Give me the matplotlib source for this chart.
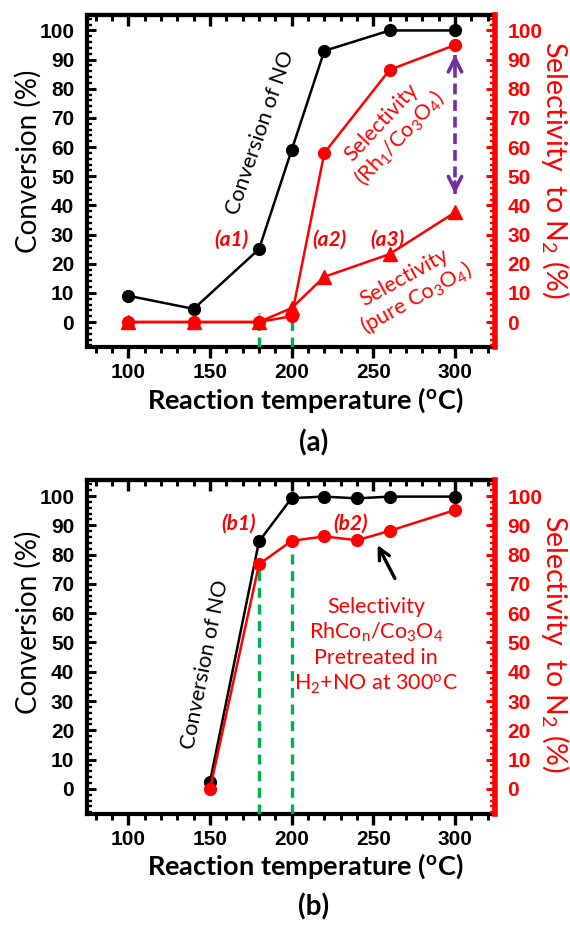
import matplotlib
matplotlib.use('Agg')
import matplotlib.pyplot as plt
from matplotlib.ticker import MultipleLocator

plt.rcParams['font.family'] = ['Lato', 'DejaVu Sans']
plt.rcParams['mathtext.fontset'] = 'custom'
plt.rcParams['mathtext.rm'] = 'Lato'
plt.rcParams['mathtext.it'] = 'Lato:italic'
plt.rcParams['mathtext.bf'] = 'Lato:bold'

# panel (a): Rh1/Co3O4 vs pure Co3O4
temp_a = [100, 140, 180, 200, 220, 260, 300]
conv_a = [9, 4.5, 25, 59, 93, 100, 100]
sel_rh1_a = [0, 0, 0, 2, 58, 86.5, 95]
sel_pure_a = [0, 0, 0, 4.8, 15.5, 23.3, 37.6]

# panel (b): RhCon/Co3O4 pretreated in H2+NO
temp_b = [150, 180, 200, 220, 240, 260, 300]
conv_b = [2.5, 84.5, 99.3, 99.8, 99.2, 99.8, 99.8]
sel_b = [0, 76.7, 84.7, 86.2, 84.9, 88.1, 95.2]

green_x = [180, 200]
green_top_a = [3, 3]
green_top_b = [76.7, 84.7]

gap_x = 300
gap_top = 92.7
gap_bottom = 43

RED = '#FF0000'
GREEN = '#00B050'
PURPLE = '#7030A0'
XLIM = (74.5, 324.5)
YLIM = (-8.5, 105.3)
W, H = 570, 925


def px(x, y):
    """pixel position -> figure fraction"""
    return x / W, 1 - y / H


def bold_ticks(labels, color='black'):
    for lbl in labels:
        lbl.set_fontfamily('Liberation Sans')
        lbl.set_fontweight('bold')
        lbl.set_fontsize(15)
        lbl.set_color(color)


def setup_axes(fig, rect):
    ax = fig.add_axes(rect)
    ax.set_xlim(*XLIM)
    ax.set_ylim(*YLIM)
    ax2 = ax.twinx()
    ax2.set_ylim(*YLIM)

    for s in ax.spines.values():
        s.set_linewidth(3)
    for name in ['left', 'top', 'bottom']:
        ax2.spines[name].set_visible(False)
    ax2.spines['right'].set_color(RED)
    ax2.spines['right'].set_linewidth(4)
    ax.spines['right'].set_visible(False)

    ax.xaxis.set_major_locator(MultipleLocator(50))
    ax.xaxis.set_minor_locator(MultipleLocator(10))
    ax.tick_params(axis='x', which='major', direction='out', length=8, width=2.4, pad=4)
    ax.tick_params(axis='x', which='minor', direction='out', length=4.5, width=2.2)

    top = ax.secondary_xaxis('top')
    top.xaxis.set_major_locator(MultipleLocator(50))
    top.xaxis.set_minor_locator(MultipleLocator(10))
    top.tick_params(axis='x', which='major', direction='in', length=8, width=2.4, labeltop=False)
    top.tick_params(axis='x', which='minor', direction='in', length=4.5, width=2.2)
    top.spines['top'].set_linewidth(3)

    for a, c in [(ax, 'black'), (ax2, RED)]:
        a.yaxis.set_major_locator(MultipleLocator(10))
        a.yaxis.set_minor_locator(MultipleLocator(2))
        a.tick_params(axis='y', which='major', direction='in', length=6.5, width=2.2, pad=9, color=c)
        a.tick_params(axis='y', which='minor', direction='in', length=3.5, width=1.7, color=c)
        a.set_ylim(*YLIM)
    ax.set_yticks(range(0, 101, 10))
    ax2.set_yticks(range(0, 101, 10))
    ax.set_xticks([100, 150, 200, 250, 300])

    bold_ticks(ax.get_xticklabels())
    bold_ticks(ax.get_yticklabels())
    bold_ticks(ax2.get_yticklabels(), RED)
    return ax, ax2


def axis_labels(fig, y_xlabel, y_conv, y_sel, y_panel, panel):
    fig.text(*px(305, y_xlabel), r'Reaction temperature ($^{\mathbf{o}}$C)',
             ha='center', va='center', fontsize=19.5, fontweight='bold')
    fig.text(*px(28, y_conv), 'Conversion (%)', rotation=90,
             ha='center', va='center', fontsize=20)
    fig.text(*px(555, y_sel), r'Selectivity  to N$_2$ (%)', rotation=270,
             ha='center', va='center', fontsize=20.5, color=RED)
    fig.text(*px(314, y_panel), panel, ha='center', va='center',
             fontsize=20, fontweight='bold')


fig = plt.figure(figsize=(5.7, 9.25), dpi=100)

# ---------------- panel (a)
ax, ax2 = setup_axes(fig, [86.7 / W, 1 - 346.8 / H, 408.3 / W, 331.8 / H])
for x, top in zip(green_x, green_top_a):
    ax2.plot([x, x], [YLIM[0], top], color=GREEN, lw=2.4, ls=(0, (3, 2)), zorder=1)
ax.plot(temp_a, conv_a, '-o', color='black', lw=1.8, ms=8.5)
ax2.plot(temp_a, sel_pure_a, '-^', color=RED, lw=1.8, ms=9.5)
ax2.plot(temp_a, sel_rh1_a, '-o', color=RED, lw=1.8, ms=8.5)

ax2.plot([gap_x, gap_x], [gap_bottom + 1, gap_top - 1], color=PURPLE, lw=2.6, ls=(0, (3, 1.6)))
for tip, tail in [(gap_top, gap_top - 6), (gap_bottom, gap_bottom + 6)]:
    ax2.annotate('', xy=(gap_x, tip), xytext=(gap_x, tail),
                 arrowprops=dict(arrowstyle='->', color=PURPLE, lw=2.6, mutation_scale=24))

ax.text(180.6, 64.8, 'Conversion of NO', rotation=71, rotation_mode='anchor',
        ha='center', va='center', fontsize=15.5)
ax.text(260.7, 65.5, 'Selectivity\n(Rh$_1$/Co$_3$O$_4$)', rotation=47, rotation_mode='anchor',
        ha='center', va='center', fontsize=15.5, color=RED, linespacing=1.1)
ax.text(273, 11.4, 'Selectivity\n(pure Co$_3$O$_4$)', rotation=29, rotation_mode='anchor',
        ha='center', va='center', fontsize=15.5, color=RED, linespacing=1.1)
for lab, x in [('(a1)', 162.8), ('(a2)', 222.8), ('(a3)', 258.3)]:
    ax.text(x, 28.3, lab, ha='center', va='center', fontsize=15, color=RED,
            fontweight='bold', fontstyle='italic')

axis_labels(fig, 400, 161, 170, 443, '(a)')

# ---------------- panel (b)
bx, bx2 = setup_axes(fig, [86.7 / W, 1 - 813.8 / H, 408.3 / W, 333.3 / H])
for x, top in zip(green_x, green_top_b):
    bx2.plot([x, x], [YLIM[0], top], color=GREEN, lw=2.4, ls=(0, (3, 2)), zorder=1)
bx.plot(temp_b, conv_b, '-o', color='black', lw=1.8, ms=8.5)
bx2.plot(temp_b, sel_b, '-o', color=RED, lw=1.8, ms=8.5)

bx2.annotate('', xy=(251.8, 84.1), xytext=(264, 71),
             arrowprops=dict(arrowstyle='->', color='black', lw=2.4, mutation_scale=20))
bx.text(147.1, 42.5, 'Conversion of NO', rotation=78.6, rotation_mode='anchor',
        ha='center', va='center', fontsize=15.5)
bx.text(251.8, 48.7,
        'Selectivity\nRhCo$_{\\mathrm{n}}$/Co$_3$O$_4$\nPretreated in\nH$_2$+NO at 300$^{\\mathrm{o}}$C',
        ha='center', va='center', fontsize=15.5, color=RED, linespacing=1.25)
for lab, x in [('(b1)', 167.2), ('(b2)', 236.2)]:
    bx.text(x, 90.4, lab, ha='center', va='center', fontsize=15, color=RED,
            fontweight='bold', fontstyle='italic')

axis_labels(fig, 866, 622, 644, 906.7, '(b)')

fig.savefig('out.png', dpi=100)
